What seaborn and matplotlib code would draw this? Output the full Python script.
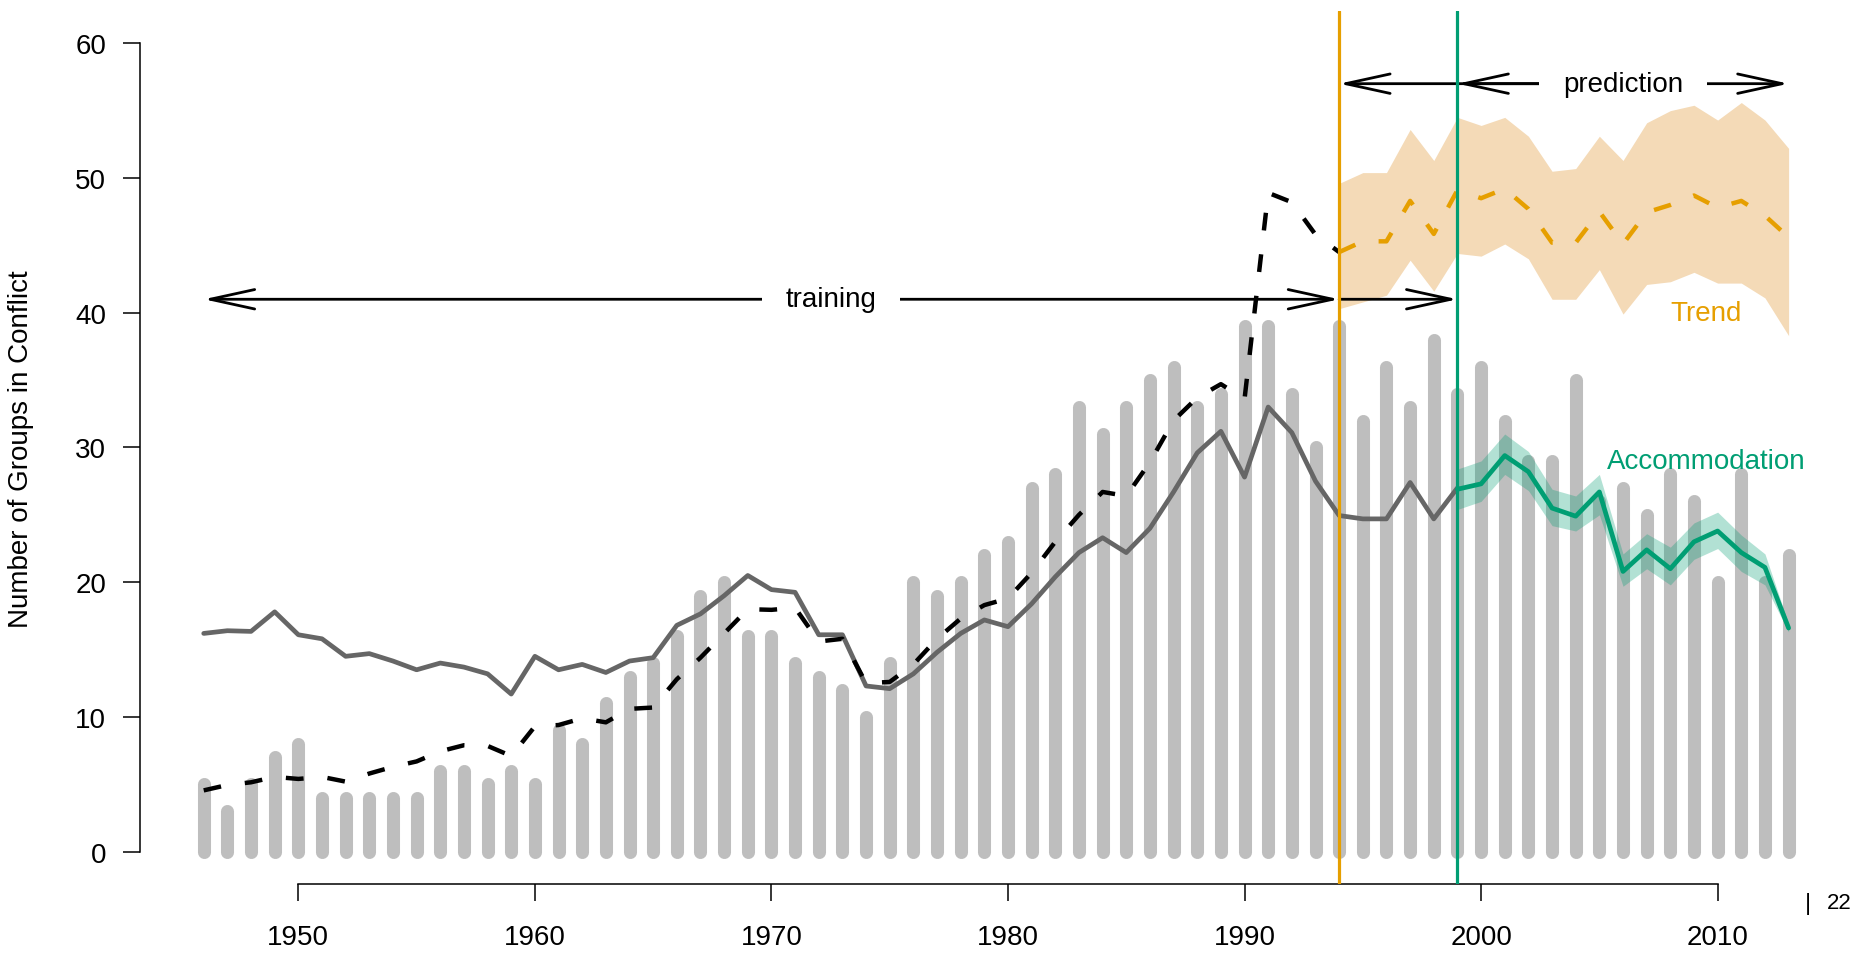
import numpy as np
import matplotlib
matplotlib.use("Agg")
import matplotlib.pyplot as plt
from matplotlib.patches import FancyArrowPatch
import seaborn as sns

sns.set_theme(style="white")
plt.rcParams['font.family'] = ['Liberation Sans', 'DejaVu Sans']
plt.rcParams['text.color'] = 'black'

# observed number of groups in conflict per year
years = np.arange(1946, 2014)
groups = [5, 3, 5, 7, 8, 4, 4, 4, 4, 4,
          6, 6, 5, 6, 5, 9, 8, 11, 13, 14,
          16, 19, 20, 16, 16, 14, 13, 12, 10, 14,
          20, 19, 20, 22, 23, 27, 28, 33, 31, 33,
          35, 36, 33, 34, 39, 39, 34, 30, 39, 32,
          36, 33, 38, 34, 36, 32, 29, 29, 35, 26,
          27, 25, 28, 26, 20, 28, 20, 22]

# in-sample fit (solid grey), 1946-1999
fit_years = np.arange(1946, 2000)
fit = [16.2, 16.4, 16.35, 17.8, 16.1, 15.8, 14.5, 14.7, 14.15, 13.5,
       14.0, 13.7, 13.2, 11.7, 14.5, 13.5, 13.9, 13.3, 14.15, 14.4,
       16.8, 17.65, 19.0, 20.5, 19.45, 19.25, 16.1, 16.1, 12.3, 12.1,
       13.2, 14.8, 16.2, 17.2, 16.7, 18.4, 20.4, 22.2, 23.3, 22.2,
       24.0, 26.7, 29.6, 31.2, 27.8, 33.0, 31.1, 27.5, 24.95, 24.7,
       24.7, 27.4, 24.7, 27.0]

# trend-only fit (dashed black), 1946-1994
naive_years = np.arange(1946, 1995)
naive = [4.55, 4.95, 5.15, 5.55, 5.4, 5.55, 5.2, 5.8, 6.3, 6.7,
         7.45, 7.9, 7.85, 7.1, 9.3, 9.4, 9.9, 9.6, 10.6, 10.7,
         12.8, 14.4, 16.2, 18.0, 17.95, 18.1, 15.6, 15.8, 12.5, 12.6,
         13.9, 15.8, 17.3, 18.3, 18.8, 20.7, 23.0, 25.0, 26.7, 26.4,
         28.9, 32.0, 33.7, 34.7, 33.6, 48.9, 48.2, 45.8, 44.5]

# trend prediction with interval, 1994-2013
trend_years = np.arange(1994, 2014)
trend = [44.5, 45.3, 45.3, 48.3, 45.85, 49.1, 48.5, 49.2, 47.7, 45.2,
         45.2, 47.5, 45.1, 47.45, 48.0, 48.7, 47.8, 48.3, 47.2, 45.6]
trend_hi = [49.6, 50.4, 50.4, 53.6, 51.3, 54.5, 53.9, 54.5, 53.1, 50.5,
            50.7, 53.1, 51.3, 54.1, 55.0, 55.4, 54.3, 55.6, 54.3, 52.2]
trend_lo = [40.3, 40.8, 41.3, 43.9, 41.6, 44.4, 44.2, 45.1, 44.0, 41.0,
            41.0, 43.2, 39.9, 42.1, 42.3, 43.0, 42.2, 42.2, 41.1, 38.3]

# accommodation prediction with interval, 1999-2013
acc_years = np.arange(1999, 2014)
acc = [26.9, 27.3, 29.4, 28.2, 25.5, 24.9, 26.7, 20.8, 22.4, 21.0,
       23.0, 23.8, 22.2, 21.1, 16.6]
acc_hi = [28.4, 29.0, 31.0, 29.7, 26.9, 26.4, 28.0, 22.1, 23.6, 22.6,
          24.4, 25.2, 23.5, 22.1, 16.9]
acc_lo = [25.4, 26.0, 28.0, 26.8, 24.2, 23.8, 25.0, 19.7, 21.0, 19.8,
          21.7, 22.5, 20.8, 19.8, 16.3]

ORANGE = '#E69F00'
GREEN = '#009E73'
FS = 20

fig = plt.figure(figsize=(18.66, 9.54), dpi=100)
ax = fig.add_axes([0.0752, 0.0723, 0.9173, 0.9152])

bars = ax.vlines(years, 0, groups, colors='#BEBEBE', linewidth=9.4, zorder=1)
bars.set_capstyle('round')

ax.fill_between(trend_years, trend_lo, trend_hi, color='#F4DAB7', lw=0, zorder=2)
ax.fill_between(acc_years, acc_lo, acc_hi, color=GREEN, alpha=0.3, lw=0, zorder=4)

sns.lineplot(x=fit_years, y=fit, color='#666666', linewidth=3.4, ax=ax, zorder=5)
sns.lineplot(x=naive_years, y=naive, color='black', linewidth=3.2,
             linestyle=(0, (4.0, 5.4)), ax=ax, zorder=5)
sns.lineplot(x=trend_years, y=trend, color=ORANGE, linewidth=3.2,
             linestyle=(0, (4.0, 5.4)), ax=ax, zorder=5)
sns.lineplot(x=acc_years, y=acc, color=GREEN, linewidth=3.4, ax=ax, zorder=5)

ax.axvline(1994, color=ORANGE, lw=2.3, zorder=6)
ax.axvline(1999, color=GREEN, lw=2.3, zorder=6)


def arrow(x0, x1, y, style, z):
    ax.add_patch(FancyArrowPatch((x0, y), (x1, y),
                                 arrowstyle=style + ',head_length=1.6,head_width=0.35',
                                 mutation_scale=20, lw=2, color='black',
                                 shrinkA=0, shrinkB=0, zorder=z))


# training arrows sit above the orange band; prediction arrows below it,
# so the label box can mask the line without hiding the band
arrow(1946, 1994, 41, '<->', 3)
arrow(1994, 1999, 41, '->', 3)
arrow(1994, 2013, 57, '<->', 1.7)
arrow(2005, 1999, 57, '->', 1.7)

box = dict(boxstyle='square,pad=0.85', fc='white', ec='none')
ax.text(1972.5, 41, 'training', ha='center', va='center', fontsize=FS, bbox=box, zorder=3.5)
ax.text(2006, 57, 'prediction', ha='center', va='center', fontsize=FS, bbox=box, zorder=1.8)
ax.text(2009.5, 40, 'Trend', ha='center', va='center', fontsize=FS, color=ORANGE, zorder=7)
ax.text(2009.5, 29, 'Accommodation', ha='center', va='center', fontsize=FS, color=GREEN, zorder=7)

ax.set_xlim(1943.32, 2015.68)
ax.set_ylim(-2.4, 62.4)
ax.set_xticks(range(1950, 2011, 10))
ax.set_yticks(range(0, 61, 10))
ax.tick_params(axis='both', which='major', length=12.5, width=1.1, labelsize=FS,
               colors='black', direction='out')
ax.tick_params(axis='x', pad=16, bottom=True)
ax.tick_params(axis='y', pad=12, left=True)
ax.set_xlabel('')
ax.set_ylabel('')
sns.despine(ax=ax)
for side in ['left', 'bottom']:
    ax.spines[side].set_color('black')
    ax.spines[side].set_linewidth(1.1)
ax.spines['left'].set_bounds(0, 60)
ax.spines['bottom'].set_bounds(1950, 2010)

fig.text(21 / 1866, 0.529, 'Number of Groups in Conflict', rotation=90,
         ha='center', va='center', fontsize=FS)
fig.text(1808 / 1866, 0.0525, '|', ha='center', va='center', fontsize=17)
fig.text(1839 / 1866, 0.0525, '22', ha='center', va='center', fontsize=16)

fig.savefig('out.png', dpi=100)
